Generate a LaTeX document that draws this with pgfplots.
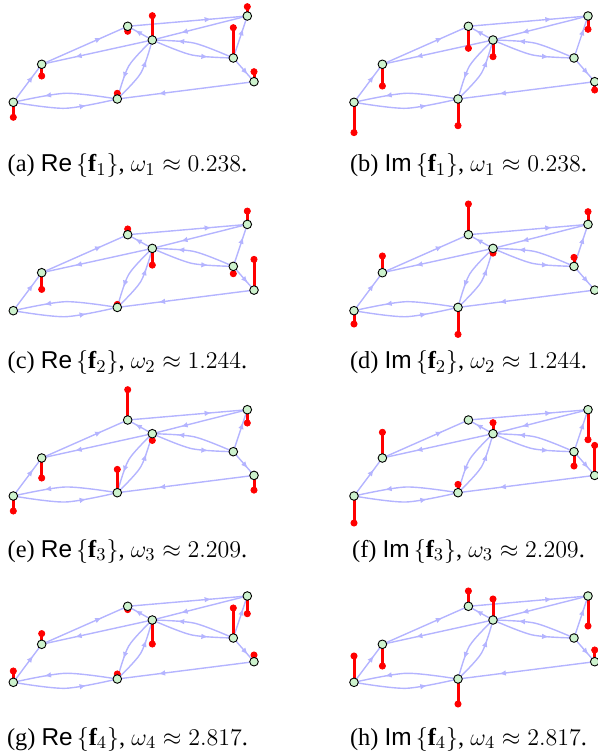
\documentclass[border=0pt]{standalone}
\usepackage{fontspec}
\setmainfont{Liberation Serif}
\setsansfont{Liberation Sans}
\usepackage{pgfplots}
\pgfplotsset{compat=1.18}
\usepackage{pgfplotstable}
\usetikzlibrary{arrows.meta, decorations.markings}
\definecolor{edgeblue}{RGB}{180,180,255}
\definecolor{nodegreen}{RGB}{205,242,205}

% node positions (px, panel relative, y up) and stem heights of the 8 panels
\pgfplotstableread{
id x y a b c d e f g h
1 13.3 -102.3 -15 -30.3 0 -13.3 -15 -27 11.3 26.3
2 41.7 -64.3 -11.7 -21.7 -16.7 16.7 -20 25.7 10.7 -21.7
3 127.7 -26.3 -5 -22 5.7 30.7 30.3 0 -3.3 15.3
4 152.3 -40 24.3 -16.7 -16.7 -4.7 -6.7 11 -24 21
5 117.3 -99 5.7 -26.7 3 -27 23.3 8.3 5 -25
6 247.3 -16 9.3 -13.3 13.3 12.7 -13.3 -30 -17.7 -30
7 233.3 -58 30.3 0 -7.3 9 0 -14.3 30 0
8 254 -81.7 10 -8.3 30.7 0 -14.7 30 6.7 11.7
}\graphnodes

\pgfplotsset{
  edge/.style={draw=edgeblue, line width=0.7pt, no marks,
    postaction={decorate},
    decoration={markings, mark=at position 0.7 with {\arrow{Latex[length=3.4pt,width=2.8pt]}}}},
}

\newcommand{\panel}[3]{%
\begin{axis}[at={(#1,#2)}, anchor=north west, x=0.5pt, y=0.5pt,
  xmin=0, xmax=250, ymin=-130, ymax=0, hide axis, clip=false]
% straight edges
\addplot[edge] coordinates {(13.3,-102.3) (41.7,-64.3)};
\addplot[edge] coordinates {(41.7,-64.3) (127.7,-26.3)};
\addplot[edge] coordinates {(152.3,-40) (41.7,-64.3)};
\addplot[edge] coordinates {(127.7,-26.3) (247.3,-16)};
\addplot[edge] coordinates {(247.3,-16) (152.3,-40)};
\addplot[edge] coordinates {(152.3,-40) (127.7,-26.3)};
\addplot[edge] coordinates {(233.3,-58) (247.3,-16)};
\addplot[edge] coordinates {(233.3,-58) (254,-81.7)};
\addplot[edge] coordinates {(254,-81.7) (117.3,-99)};
% curved edges
\addplot[edge, smooth] coordinates {(117.3,-99) (65.3,-93.3) (13.3,-102.3)};
\addplot[edge, smooth] coordinates {(13.3,-102.3) (65.3,-108.3) (117.3,-99)};
\addplot[edge, smooth] coordinates {(233.3,-58) (194.1,-43.1) (152.3,-40)};
\addplot[edge, smooth] coordinates {(152.3,-40) (191.5,-54.9) (233.3,-58)};
\addplot[edge, smooth] coordinates {(152.3,-40) (128.8,-65.9) (117.3,-99)};
\addplot[edge, smooth] coordinates {(117.3,-99) (140.8,-73.1) (152.3,-40)};
% stems
\addplot[red, line width=1.5pt, quiver={u=0, v=\thisrow{#3}}] table[x=x, y=y] {\graphnodes};
\addplot[only marks, mark=*, mark size=1.55pt, red] table[x=x, y expr=\thisrow{y}+\thisrow{#3}] {\graphnodes};
% nodes
\addplot[only marks, mark=*, mark size=2.15pt, mark options={fill=nodegreen, draw=black, line width=0.45pt}] table[x=x, y=y] {\graphnodes};
\end{axis}}

\newcommand{\subcap}[4]{\node[anchor=base, font=\fontsize{12.2}{14}\selectfont] at (#1,#2) {(#3) #4};}

\begin{document}
\begin{tikzpicture}
\path[use as bounding box] (0,0) rectangle (299pt,-376.5pt);
\clip (0,0) rectangle (299pt,-376.5pt);
\panel{0pt}{0pt}{a}
\panel{170.35pt}{0pt}{b}
\panel{0pt}{-104.2pt}{c}
\panel{170.35pt}{-104.2pt}{d}
\panel{0pt}{-196.85pt}{e}
\panel{170.35pt}{-196.85pt}{f}
\panel{0pt}{-290pt}{g}
\panel{170.35pt}{-290pt}{h}
\subcap{63.75pt}{-86pt}{a}{\textsf{Re}\,$\{\mathbf{f}_1\}$, $\omega_1\approx 0.238$.}
\subcap{234.25pt}{-86pt}{b}{\textsf{Im}\,$\{\mathbf{f}_1\}$, $\omega_1\approx 0.238$.}
\subcap{63.75pt}{-184.3pt}{c}{\textsf{Re}\,$\{\mathbf{f}_2\}$, $\omega_2\approx 1.244$.}
\subcap{234.25pt}{-184.3pt}{d}{\textsf{Im}\,$\{\mathbf{f}_2\}$, $\omega_2\approx 1.244$.}
\subcap{63.75pt}{-278.5pt}{e}{\textsf{Re}\,$\{\mathbf{f}_3\}$, $\omega_3\approx 2.209$.}
\subcap{234.25pt}{-278.5pt}{f}{\textsf{Im}\,$\{\mathbf{f}_3\}$, $\omega_3\approx 2.209$.}
\subcap{63.75pt}{-372.5pt}{g}{\textsf{Re}\,$\{\mathbf{f}_4\}$, $\omega_4\approx 2.817$.}
\subcap{234.25pt}{-372.5pt}{h}{\textsf{Im}\,$\{\mathbf{f}_4\}$, $\omega_4\approx 2.817$.}
\end{tikzpicture}
\end{document}
